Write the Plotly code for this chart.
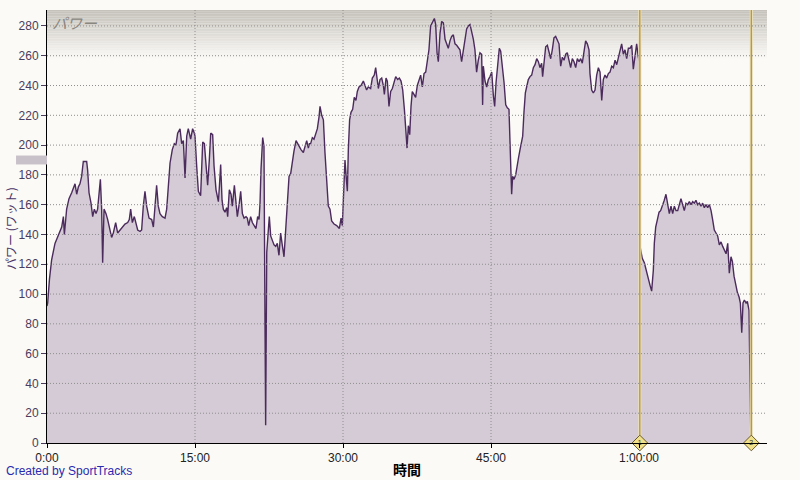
import plotly.graph_objects as go

# time in minutes, power in watts
minutes = [
    0.00, 0.07, 0.25, 0.47, 0.81, 1.15, 1.49, 1.66, 1.76, 1.99, 2.23, 2.50, 2.84, 3.01, 3.18, 3.34,
    3.51, 3.68, 4.02, 4.12, 4.26, 4.46, 4.63, 4.80, 4.97, 5.13, 5.27, 5.41, 5.54, 5.64, 5.78, 5.98,
    6.15, 6.38, 6.55, 6.72, 6.96, 7.16, 7.40, 7.63, 7.90, 8.18, 8.34, 8.48, 8.65, 8.85, 8.99, 9.19,
    9.43, 9.59, 9.76, 9.93, 10.10, 10.34, 10.61, 10.78, 10.95, 11.11, 11.28, 11.45, 11.69, 11.96,
    12.13, 12.30, 12.47, 12.70, 12.90, 13.07, 13.24, 13.48, 13.65, 13.82, 13.99, 14.16, 14.32,
    14.56, 14.76, 14.93,
    15.00, 15.17, 15.34, 15.57, 15.78, 15.95, 16.11, 16.28, 16.45, 16.59, 16.79, 16.93, 17.13,
    17.37, 17.47, 17.60, 17.74, 17.87, 18.04, 18.21, 18.31, 18.48, 18.65, 18.78, 18.99, 19.12,
    19.29, 19.49, 19.63, 19.80, 19.97, 20.17, 20.30, 20.44, 20.64, 20.81, 21.01, 21.18, 21.35,
    21.49, 21.59, 21.69, 21.86, 21.99, 22.09, 22.16, 22.27, 22.53, 22.67, 22.84, 23.01, 23.18,
    23.34, 23.51, 23.68, 23.82, 24.02, 24.19, 24.36, 24.53, 24.70, 24.87, 25.03, 25.24, 25.40,
    25.57, 25.74, 25.98, 26.15, 26.32, 26.49, 26.59, 26.72, 26.89, 27.06, 27.23, 27.40, 27.57,
    27.67, 27.84, 28.01, 28.17, 28.34, 28.51, 28.68, 28.85, 29.09, 29.36, 29.63,
    29.80, 29.93, 30.07, 30.20, 30.34, 30.44, 30.54, 30.67, 30.81, 30.98, 31.14, 31.31, 31.45,
    31.62, 31.82, 32.06, 32.23, 32.39, 32.56, 32.80, 32.97, 33.17, 33.31, 33.44, 33.58, 33.75,
    33.92, 34.09, 34.19, 34.36, 34.49, 34.66, 34.83, 35.00, 35.17, 35.34, 35.54, 35.71, 35.88,
    36.05, 36.22, 36.35, 36.49, 36.62, 36.76, 36.89, 37.02, 37.19, 37.36, 37.53, 37.70, 37.87,
    38.04, 38.21, 38.38, 38.54, 38.71, 38.88, 39.05, 39.26, 39.39, 39.53, 39.66, 39.83, 40.00,
    40.17, 40.34, 40.51, 40.67, 40.84, 41.01, 41.18, 41.35, 41.52, 41.69, 41.85, 42.02, 42.19,
    42.36, 42.53, 42.70, 42.87, 43.04, 43.21, 43.37, 43.54, 43.71, 43.88, 44.05, 44.15, 44.22,
    44.39, 44.56, 44.73, 44.90, 45.07, 45.24, 45.37, 45.51, 45.68, 45.84, 45.98, 46.15, 46.32,
    46.49, 46.65, 46.82, 46.93, 47.03, 47.09, 47.19, 47.33, 47.50, 47.67, 47.80, 47.94, 48.08,
    48.21, 48.34, 48.48, 48.61, 48.78, 48.95, 49.12, 49.29, 49.46, 49.63, 49.80, 49.96, 50.13,
    50.23, 50.37, 50.54, 50.71, 50.88, 51.05, 51.21, 51.38, 51.55, 51.72, 51.89, 52.06, 52.23,
    52.40, 52.57, 52.73, 52.90, 53.07, 53.24, 53.41, 53.58, 53.75, 53.92, 54.09, 54.25, 54.42,
    54.59, 54.76, 54.93, 55.03, 55.20, 55.37, 55.54, 55.71, 55.88, 56.05, 56.22, 56.38, 56.55,
    56.72, 56.89, 57.06, 57.23, 57.40, 57.57, 57.74, 57.91, 58.07, 58.24, 58.41, 58.58, 58.75,
    58.92, 59.09, 59.26, 59.42, 59.59, 59.76, 59.93, 60.03,
    60.10, 60.33, 60.54, 60.71, 60.94, 61.11, 61.28, 61.45, 61.55, 61.69, 61.86, 62.03, 62.19,
    62.36, 62.56, 62.73, 62.90, 63.07, 63.24, 63.41, 63.58, 63.75, 63.92, 64.08, 64.25, 64.42,
    64.59, 64.76, 64.93, 65.10, 65.27, 65.44, 65.61, 65.77, 65.94, 66.11, 66.28, 66.45, 66.62,
    66.79, 66.96, 67.13, 67.30, 67.46, 67.63, 67.80, 67.97, 68.14, 68.31, 68.48, 68.65, 68.82,
    68.99, 69.15, 69.32, 69.46, 69.63, 69.80, 69.97, 70.14, 70.27, 70.41, 70.54, 70.68, 70.85,
    70.98, 71.15, 71.22, 71.29, 71.33,
]
watts = [
    92, 94, 110, 123, 134, 139, 145, 152, 140, 157, 164, 168, 174, 167, 172, 174,
    179, 189, 189, 183, 168, 161, 152, 157, 154, 157, 166, 177, 157, 121, 157, 154,
    150, 143, 138, 141, 148, 141, 143, 145, 147, 148, 150, 157, 148, 152, 148, 143,
    142, 143, 159, 169, 159, 151, 150, 145, 159, 173, 159, 154, 152, 151,
    157, 174, 188, 197, 201, 200, 208, 211, 201, 203, 178, 206, 211,
    204, 211, 208,
    206, 186, 169, 166, 202, 201, 186, 173, 190, 208, 207, 186, 170,
    162, 172, 187, 163, 157, 155, 158, 152, 170, 167, 159, 173, 162,
    152, 161, 169, 154, 151, 152, 151, 146, 152, 148, 146, 144, 152,
    150, 161, 184, 205, 199, 85, 12, 128, 152, 139, 136, 133, 132,
    134, 126, 141, 134, 125, 143, 161, 179, 181, 190, 196, 203, 201,
    199, 197, 195, 199, 203, 198, 201, 201, 205, 204, 208, 211, 219,
    226, 220, 217, 195, 172, 159, 157, 149, 147, 146, 144,
    151, 146, 166, 190, 177, 169, 197, 217, 222, 224, 232, 230, 236,
    239, 240, 243, 240, 237, 239, 238, 245, 247, 252, 245, 238, 244,
    245, 240, 234, 245, 243, 226, 236, 238, 242, 246, 244, 245, 243,
    237, 224, 210, 198, 213, 207, 226, 236, 234, 232, 240, 244, 247,
    239, 248, 249, 256, 264, 280, 282, 285, 281, 262, 256, 275, 283,
    282, 271, 267, 265, 270, 273, 274, 268, 267, 265, 264, 256, 264,
    273, 278, 280, 281, 276, 271, 264, 249, 257, 262, 261, 227, 253,
    243, 239, 244, 246, 249, 233, 226, 242, 253, 265, 263, 253, 242,
    227, 225, 224, 201, 179, 167, 179, 177, 180, 188, 192, 197, 201,
    206, 222, 235, 239, 244, 246, 247, 252, 254, 258, 256, 252, 255,
    246, 255, 266, 267, 262, 258, 264, 272, 273, 270, 268, 253, 259,
    257, 261, 262, 257, 252, 258, 256, 252, 258, 256, 258, 255, 262,
    270, 268, 264, 248, 237, 235, 237, 247, 252, 249, 230, 244, 247,
    245, 248, 249, 253, 252, 257, 254, 259, 265, 268, 261, 264, 258,
    265, 265, 267, 251, 259, 268, 259, 256,
    132, 124, 121, 116, 110, 106, 102, 116, 134, 145, 150, 155, 156,
    159, 163, 167, 159, 154, 159, 154, 159, 156, 156, 160, 164, 160,
    156, 161, 160, 162, 160, 162, 161, 163, 160, 161, 159, 161, 158,
    160, 158, 160, 156, 150, 143, 141, 139, 133, 135, 132, 130, 127,
    134, 114, 125, 122, 112, 105, 101, 98, 94, 74, 94, 96, 94,
    95, 89, 54, 13, 5,
]

x_tick_vals = [0, 15, 30, 45, 60]
x_tick_text = ["0:00", "15:00", "30:00", "45:00", "1:00:00"]
y_tick_vals = list(range(0, 281, 20))
lap_marks = [60.08, 71.38]
lap_labels = ["1", "2"]

X_MAX = 72.97
Y_MAX = 290.7
BG = "#fbfaf6"

fig = go.Figure()

fig.add_trace(go.Scatter(
    x=minutes, y=watts, mode="lines", fill="tozeroy",
    fillcolor="#d5cbd6", line=dict(color="#4b2b5c", width=1.4),
    hoverinfo="skip", showlegend=False,
))

for m in lap_marks:
    fig.add_trace(go.Scatter(x=[m, m], y=[0, Y_MAX], mode="lines",
                             line=dict(color="#ebe0b8", width=3.2),
                             hoverinfo="skip", showlegend=False, cliponaxis=False))
    fig.add_trace(go.Scatter(x=[m, m], y=[0, Y_MAX], mode="lines",
                             line=dict(color="#b39546", width=1.3),
                             hoverinfo="skip", showlegend=False, cliponaxis=False))

fig.add_trace(go.Scatter(
    x=lap_marks, y=[0, 0], mode="markers+text", text=lap_labels,
    textposition="middle center",
    textfont=dict(size=7, color="#333322", family="Liberation Sans"),
    marker=dict(symbol="diamond", size=12, color="#f0e08a",
                line=dict(color="#6a5a28", width=1)),
    hoverinfo="skip", showlegend=False, cliponaxis=False,
))

shapes = []
# top gradient band
n = 30
top, bottom = Y_MAX, 257.0
c0 = (197, 193, 187)
c1 = (251, 250, 246)
for i in range(n):
    t = i / (n - 1)
    col = tuple(int(round(c0[k] + (c1[k] - c0[k]) * t)) for k in range(3))
    y1 = top - (top - bottom) * i / n
    y0 = top - (top - bottom) * (i + 1) / n
    shapes.append(dict(type="rect", xref="x", yref="y", x0=0, x1=X_MAX, y0=y0, y1=y1,
                       fillcolor="rgb(%d,%d,%d)" % col, line=dict(width=0), layer="below"))
# gridlines
for v in y_tick_vals[1:]:
    shapes.append(dict(type="line", xref="x", yref="y", x0=0, x1=X_MAX, y0=v, y1=v,
                       line=dict(color="#8e8e8e", width=1, dash="1px,2px"), layer="above"))
for v in x_tick_vals[1:4]:
    shapes.append(dict(type="line", xref="x", yref="y", x0=v, x1=v, y0=0, y1=Y_MAX,
                       line=dict(color="#8e8e8e", width=1, dash="1px,2px"), layer="above"))
# small slider bar at left
shapes.append(dict(type="rect", xref="paper", yref="y", x0=-0.043, x1=0, y0=187.0, y1=193.0,
                   fillcolor="#c9c1c9", line=dict(width=0), layer="above"))

fig.update_layout(
    width=800, height=480,
    margin=dict(l=47, r=33, t=10, b=37),
    paper_bgcolor=BG, plot_bgcolor=BG,
    shapes=shapes,
    xaxis=dict(range=[0, X_MAX], tickvals=x_tick_vals, ticktext=x_tick_text,
               showgrid=False, zeroline=False, showline=True, linecolor="#000000",
               linewidth=1, ticks="outside", ticklen=4, tickcolor="#000000",
               tickfont=dict(family="Liberation Sans", size=12, color="#222222")),
    yaxis=dict(range=[0, Y_MAX], tickvals=y_tick_vals,
               showgrid=False, zeroline=False, showline=True, linecolor="#000000",
               linewidth=1, ticks="outside", ticklen=5, tickcolor="#4a3c5c",
               tickfont=dict(family="Liberation Sans", size=12, color="#4a3c5c")),
    annotations=[
        dict(text="パワー", xref="paper", yref="paper", x=0.004, y=1.0,
             xanchor="left", yanchor="top", showarrow=False,
             font=dict(family="Noto Sans CJK JP", size=15, color="#8a8680", style="italic")),
        dict(text="パワー (ワット)", xref="paper", yref="paper", x=-0.0514, y=0.4965,
             xanchor="center", yanchor="middle", textangle=-90, showarrow=False,
             font=dict(family="Noto Sans CJK JP", size=12, color="#4a3566")),
        dict(text="<b>時間</b>", xref="paper", yref="paper", x=0.5, y=-0.060,
             xanchor="center", yanchor="middle", showarrow=False,
             font=dict(family="Noto Sans CJK JP", size=14, color="#000000")),
        dict(text="Created by SportTracks", xref="paper", yref="paper", x=-0.0597, y=-0.0647,
             xanchor="left", yanchor="middle", showarrow=False,
             font=dict(family="Liberation Sans", size=12, color="#2a2ab0")),
    ],
)

fig.write_html("out.html", config={"displayModeBar": False},
               post_script="document.body.style.margin='0';document.body.style.overflow='hidden';")
